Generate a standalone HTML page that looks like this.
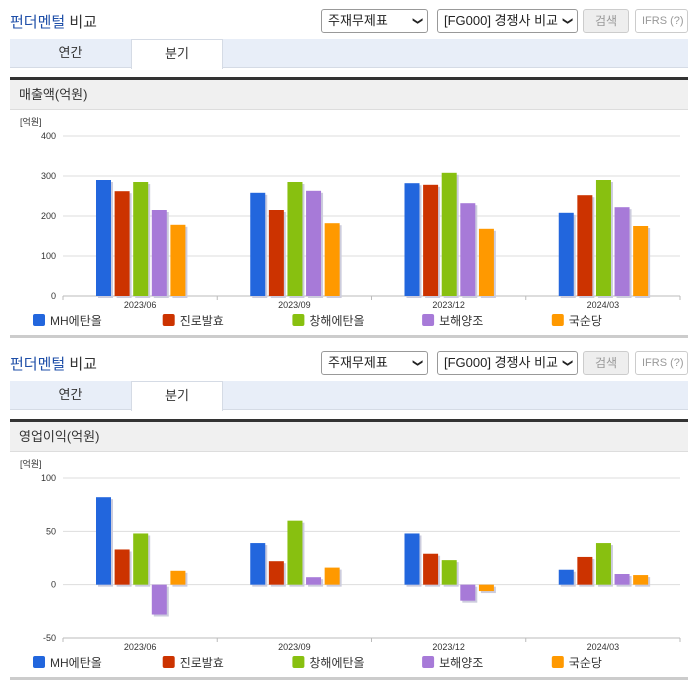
<!DOCTYPE html>
<html><head><meta charset="utf-8">
<style>
*{margin:0;padding:0;box-sizing:border-box}
body{width:696px;height:684px;background:#fff;font-family:"Liberation Sans","Noto Sans CJK KR",sans-serif;position:relative;overflow:hidden;color:#333}
.a{position:absolute}
.title{font-size:15px;color:#333}
.title b{color:#1f4fa8;font-weight:normal}
.sel{border:1px solid #999;border-radius:3px;background:#fff;font-size:13px;height:24px;line-height:22px;padding-left:6px;color:#222}
.sel i{position:absolute;right:6px;top:0;font-style:normal;font-size:10px}
.btn{border:1px solid #ccc;border-radius:3px;background:#eee;color:#999;font-size:12px;height:24px;line-height:22px;text-align:center}
.ifrs{border:1px solid #ccc;border-radius:3px;background:#fff;color:#999;font-size:11px;height:24px;line-height:22px;padding-left:6px}
.tabbar{left:10px;width:678px;height:29px;background:#e8eef8;border-bottom:1px solid #d5dbe5}
.tab{top:0;height:29px;line-height:28px;text-align:center;font-size:13px;color:#333}
.tab.on{background:#fff;border:1px solid #d5dbe5;border-bottom:none;height:30px}
.dark{left:10px;width:678px;height:3px;background:#333}
.hdr{left:10px;width:678px;height:30px;background:#f0f0f0;font-size:13px;line-height:30px;padding-left:9px;border-bottom:1px solid #ddd}
.bot{left:10px;width:678px;height:3px;background:#ccc}
svg text{font-family:"Liberation Sans","Noto Sans CJK KR",sans-serif}
</style></head><body>
<div id="root"></div>
<script>
const categories=["2023/06","2023/09","2023/12","2024/03"];
const seriesNames=["MH에탄올","진로발효","창해에탄올","보해양조","국순당"];
const colors=["#2266dd","#cc3300","#88c010","#a77ad8","#ff9900"];
const salesMH=[290,258,282,208];
const salesJinro=[262,215,278,252];
const salesChanghae=[285,285,308,290];
const salesBohae=[215,263,232,222];
const salesKook=[178,182,168,175];
const opMH=[82,39,48,14];
const opJinro=[33,22,29,26];
const opChanghae=[48,60,23,39];
const opBohae=[-28,7,-15,10];
const opKook=[13,16,-6,9];
const salesTicks=[0,100,200,300,400];
const opTicks=[-50,0,50,100];

const root=document.getElementById('root');
const NS="http://www.w3.org/2000/svg";
function mk(tag,cls,style,text){const e=document.createElement(tag);if(cls)e.className=cls;if(style)e.style.cssText=style;if(text!=null)e.textContent=text;root.appendChild(e);return e;}
function sv(parent,tag,attrs,text){const e=document.createElementNS(NS,tag);for(const k in attrs)e.setAttribute(k,attrs[k]);if(text!=null)e.textContent=text;parent.appendChild(e);return e;}

function section(oy,header,series,ticks,ymin,ymax,plotTop,plotBot,axisAt0){
  let e;
  e=mk('div','a title','left:10px;top:'+(oy+11)+'px');e.innerHTML='<b>펀더멘털</b> 비교';
  
  
  e=mk('div','a sel','left:321px;top:'+(oy+9)+'px;width:107px');e.innerHTML='주재무제표<i>&#10095;</i>';
  e.querySelector('i').style.transform='rotate(90deg)';
  
  
  e=mk('div','a sel','left:437px;top:'+(oy+9)+'px;width:141px');e.innerHTML='[FG000] 경쟁사 비교<i>&#10095;</i>';
  e.querySelector('i').style.transform='rotate(90deg)';
  
  
  e=mk('div','a btn','left:583px;top:'+(oy+9)+'px;width:46px','검색');
  
  
  e=mk('div','a ifrs','left:635px;top:'+(oy+9)+'px;width:53px','IFRS ⓘ');
  e.textContent='IFRS (?)';
  
  
  e=mk('div','a tabbar','top:'+(oy+39)+'px');
  
  
  e=mk('div','a tab','left:10px;top:'+(oy+39)+'px;width:121px','연간');
  
  
  e=mk('div','a tab on','left:131px;top:'+(oy+39)+'px;width:92px','분기');
  
  
  mk('div','a dark','top:'+(oy+77)+'px');
  e=mk('div','a hdr','top:'+(oy+80)+'px',header);
  
  
  mk('div','a bot','top:'+(oy+335)+'px');

  const svg=document.createElementNS(NS,'svg');
  svg.setAttribute('width',696);svg.setAttribute('height',230);
  svg.style.cssText='position:absolute;left:0;top:'+(oy+110)+'px';
  
  
  root.appendChild(svg);
  const x0=63,x1=680;
  const y=v=>plotBot-(v-ymin)/(ymax-ymin)*(plotBot-plotTop);
  const u=sv(svg,'text',{x:20,y:15,'font-size':9,fill:'#333'},'[억원]');
  
  
  ticks.forEach(t=>{
    const g=sv(svg,'line',{x1:x0,x2:x1,y1:y(t),y2:y(t),stroke:'#ddd','stroke-width':1});
    
    
    const tl=sv(svg,'text',{x:56,y:y(t)+3,'font-size':9,fill:'#333','text-anchor':'end'},String(t));
    
    
  });
  sv(svg,'line',{x1:x0,x2:x1,y1:plotBot,y2:plotBot,stroke:'#bbb'});
  const gw=(x1-x0)/categories.length;
  for(let i=0;i<=categories.length;i++){sv(svg,'line',{x1:x0+i*gw,x2:x0+i*gw,y1:plotBot,y2:plotBot+4,stroke:'#bbb'});}
  const base=y(0);
  categories.forEach((c,ci)=>{
    const cl=sv(svg,'text',{x:x0+gw*ci+gw/2,y:plotBot+12,'font-size':9,fill:'#333','text-anchor':'middle'},c);
    
    
    series.forEach((s,si)=>{
      const v=s[ci];
      const bx=x0+gw*ci+33+si*18.6;
      const top=Math.min(y(v),base),h=Math.abs(y(v)-base);
      sv(svg,'rect',{x:bx+2,y:top+2,width:15,height:h,fill:'#ccd'});
      const r=sv(svg,'rect',{x:bx,y:top,width:15,height:h,fill:colors[si]});
      
      
    });
  });
  seriesNames.forEach((n,i)=>{
    const lx=33+i*129.7;
    const s=sv(svg,'rect',{x:lx,y:204,width:12,height:12,rx:2,fill:colors[i]});
    
    
    const t=sv(svg,'text',{x:lx+17,y:215,'font-size':12,fill:'#333'},n);
    
    
  });
}
section(0,'매출액(억원)',[salesMH,salesJinro,salesChanghae,salesBohae,salesKook],salesTicks,0,400,26,186);
section(342,'영업이익(억원)',[opMH,opJinro,opChanghae,opBohae,opKook],opTicks,-50,100,26,186);
</script>
</body></html>
